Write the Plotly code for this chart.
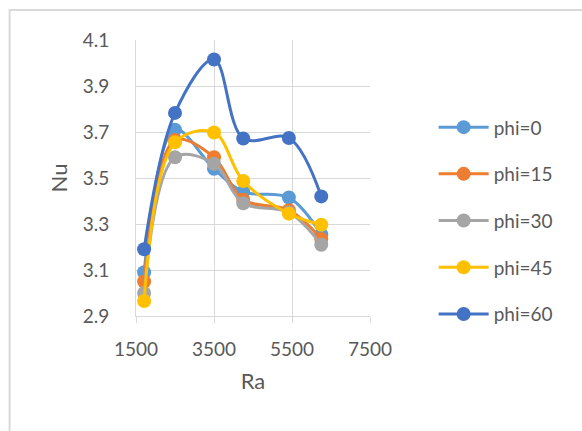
import plotly.graph_objects as go

# Rayleigh numbers (x) and Nusselt numbers (y) for each inclination angle
ra = [1708, 2500, 3500, 4250, 5420, 6250]

series_names = ["phi=0", "phi=15", "phi=30", "phi=45", "phi=60"]
nu_phi0 = [3.09, 3.71, 3.54, 3.44, 3.415, 3.255]
nu_phi15 = [3.05, 3.665, 3.59, 3.405, 3.36, 3.235]
nu_phi30 = [3.00, 3.59, 3.562, 3.39, 3.35, 3.21]
nu_phi45 = [2.965, 3.655, 3.698, 3.487, 3.345, 3.297]
nu_phi60 = [3.19, 3.783, 4.015, 3.672, 3.674, 3.42]

series_values = [nu_phi0, nu_phi15, nu_phi30, nu_phi45, nu_phi60]
colors = ["#5B9BD5", "#ED7D31", "#A5A5A5", "#FFC000", "#4472C4"]

x_ticks = [1500, 3500, 5500, 7500]
y_ticks = [2.9, 3.1, 3.3, 3.5, 3.7, 3.9, 4.1]

FONT = "Lato, Carlito, Calibri, sans-serif"
TEXT_COLOR = "#595959"
GRID = "#D9D9D9"

fig = go.Figure()
for name, vals, col in zip(series_names, series_values, colors):
    fig.add_trace(go.Scatter(
        x=ra, y=vals, name=name, mode="lines+markers",
        line=dict(color=col, width=3, shape="spline", smoothing=1.0),
        marker=dict(color=col, size=14, symbol="circle"),
        legendgroup=name,
    ))

fig.update_layout(
    width=582, height=431,
    margin=dict(l=136, r=212, t=40, b=115),
    paper_bgcolor="white", plot_bgcolor="white",
    font=dict(family=FONT, size=19, color=TEXT_COLOR),
    showlegend=True,
    legend=dict(
        x=1.272, xanchor="left", y=0.345, yanchor="middle",
        font=dict(family=FONT, size=19, color=TEXT_COLOR),
        tracegroupgap=19, itemwidth=50,
        bgcolor="rgba(0,0,0,0)",
    ),
    xaxis=dict(
        range=[1500, 7500], tickvals=x_ticks, ticktext=[str(v) for v in x_ticks],
        showgrid=True, gridcolor=GRID, gridwidth=1,
        showline=True, linecolor=GRID, linewidth=1, mirror=False,
        ticks="outside", ticklen=6, tickcolor=GRID,
        ticklabelstandoff=10, zeroline=False,
        title=dict(text="Ra", font=dict(family=FONT, size=22, color=TEXT_COLOR), standoff=14),
    ),
    yaxis=dict(
        range=[2.9, 4.1], tickvals=y_ticks, ticktext=[f"{v:.1f}" for v in y_ticks],
        showgrid=True, gridcolor=GRID, gridwidth=1,
        showline=True, linecolor=GRID, linewidth=1,
        ticks="", ticklabelstandoff=22, zeroline=False,
        title=dict(text="Nu", font=dict(family=FONT, size=22, color=TEXT_COLOR), standoff=8),
    ),
    shapes=[dict(
        type="rect", xref="paper", yref="paper",
        x0=-0.540, x1=1.92, y0=-0.60, y1=1.1087,
        line=dict(color="#D9D9D9", width=2), fillcolor="rgba(0,0,0,0)", layer="below",
    )],
)

fig.write_html("out.html")
